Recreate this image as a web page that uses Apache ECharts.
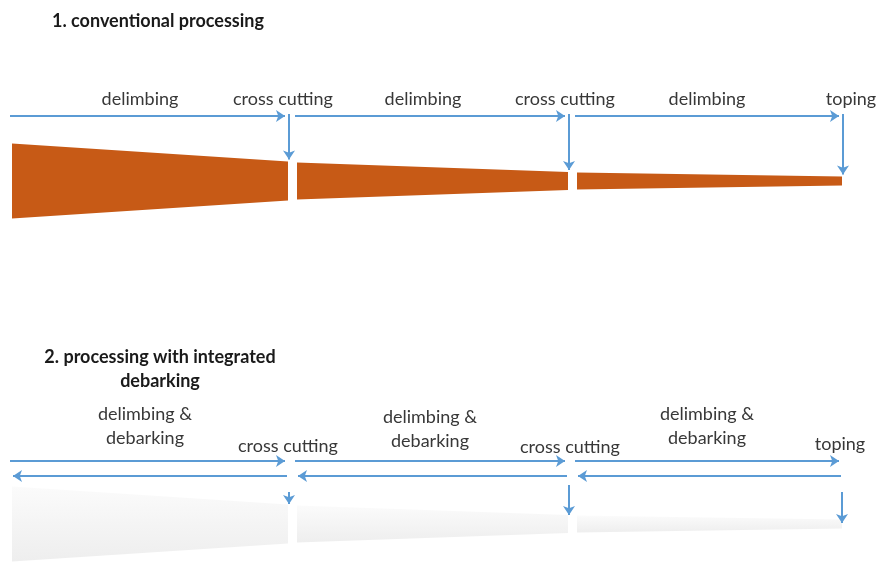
<!DOCTYPE html>
<html><head><meta charset="utf-8">
<script src="https://cdn.jsdelivr.net/npm/echarts@6/dist/echarts.min.js"></script>
<style>html,body{margin:0;padding:0;background:#fff}#c{width:877px;height:563px}</style>
</head><body><div id="c"></div>
<script>
// Stem segments (diagram units along the stem) and diameters at their ends
const segStart = [12, 297, 577];
const segEnd = [288, 568, 842];
const diamStart = [75, 37, 17];
const diamEnd = [39, 18, 9];
// Stage labels
const topLabels = ['delimbing', 'cross cutting', 'delimbing', 'cross cutting', 'delimbing', 'toping'];
const bottomLabels = ['delimbing &\ndebarking', 'cross cutting', 'delimbing &\ndebarking', 'cross cutting', 'delimbing &\ndebarking', 'toping'];
const titles = ['1. conventional processing', '2. processing with integrated\ndebarking'];

// ---- layout (positions) ----
const topLogCenter = 181, botLogCenter = 524;
const topArrowY = 116, botArrowY1 = 461, botArrowY2 = 476;
const FONT = 'Lato';
const blue = '#5b9bd5';

const logData = segStart.map((s, i) => [s, segEnd[i], diamStart[i], diamEnd[i]]);

function logSeries(center, fill) {
  return {
    type: 'custom', clip: false, silent: true,
    data: logData,
    renderItem: (p, api) => {
      const x0 = api.value(0), x1 = api.value(1), d0 = api.value(2), d1 = api.value(3);
      const pts = [api.coord([x0, center - d0 / 2]), api.coord([x1, center - d1 / 2]),
                   api.coord([x1, center + d1 / 2]), api.coord([x0, center + d0 / 2])];
      return { type: 'polygon', shape: { points: pts }, style: { fill: fill } };
    }
  };
}

// arrows
const arrows = [];
segStart.forEach((s, i) => {
  const e = segEnd[i];
  arrows.push({ coords: [[s - 2, topArrowY], [e - 3, topArrowY]] });
  arrows.push({ coords: [[e + 1, topArrowY - 2], [e + 1, topLogCenter - diamEnd[i] / 2 - 2]] });
  arrows.push({ coords: [[s - 2, botArrowY1], [e - 3, botArrowY1]] });
  arrows.push({ coords: [[e - 1, botArrowY2], [s + 1, botArrowY2]] });
});
const smallCuts = [[492, 504], [485, 515], [492, 523]];
const cutX = [289, 569, 842];
smallCuts.forEach((c, i) => arrows.push({ coords: [[cutX[i], c[0]], [cutX[i], c[1]]] }));

// labels
const labelX = [140, 283, 423, 565, 707, 851];
const labelXb = [145, 288, 430, 570, 707, 840];
const labelYb = [426, 446, 429, 447, 426, 444];
const textItems = [];
topLabels.forEach((t, i) => textItems.push({ x: labelX[i], y: 99, t: t, bold: false }));
bottomLabels.forEach((t, i) => textItems.push({ x: labelXb[i], y: labelYb[i], t: t, bold: false }));
textItems.push({ x: 52, y: 21, t: titles[0], bold: true, left: true });
textItems.push({ x: 160, y: 369, t: titles[1], bold: true });

const chart = echarts.init(document.getElementById('c'), null, { renderer: 'canvas' });
chart.setOption({
  animation: false,
  grid: { left: 0, right: 0, top: 0, bottom: 0 },
  xAxis: { type: 'value', min: 0, max: 877, show: false },
  yAxis: { type: 'value', min: 0, max: 563, inverse: true, show: false },
  series: [
    logSeries(topLogCenter, '#c75a16'),
    logSeries(botLogCenter, new echarts.graphic.LinearGradient(0, 0, 0, 1, [
      { offset: 0, color: '#fbfbfb' }, { offset: 1, color: '#eeeeee' }])),
    {
      type: 'lines', coordinateSystem: 'cartesian2d', silent: true,
      symbol: ['none', 'arrow'], symbolSize: [8, 9],
      lineStyle: { color: blue, width: 2, opacity: 1, curveness: 0 },
      data: arrows
    },
    {
      type: 'custom', clip: false, silent: true,
      data: textItems.map(d => [d.x, d.y]),
      renderItem: (p, api) => {
        const d = textItems[p.dataIndex];
        const pt = api.coord([api.value(0), api.value(1)]);
        return {
          type: 'text', x: pt[0], y: pt[1],
          style: {
            text: d.t, fill: d.bold ? '#1a1a1a' : '#383838',
            font: (d.bold ? 'bold 18px ' : '18px ') + FONT,
            align: d.left ? 'left' : 'center', verticalAlign: 'middle',
            lineHeight: 24
          }
        };
      }
    }
  ]
});
</script></body></html>
